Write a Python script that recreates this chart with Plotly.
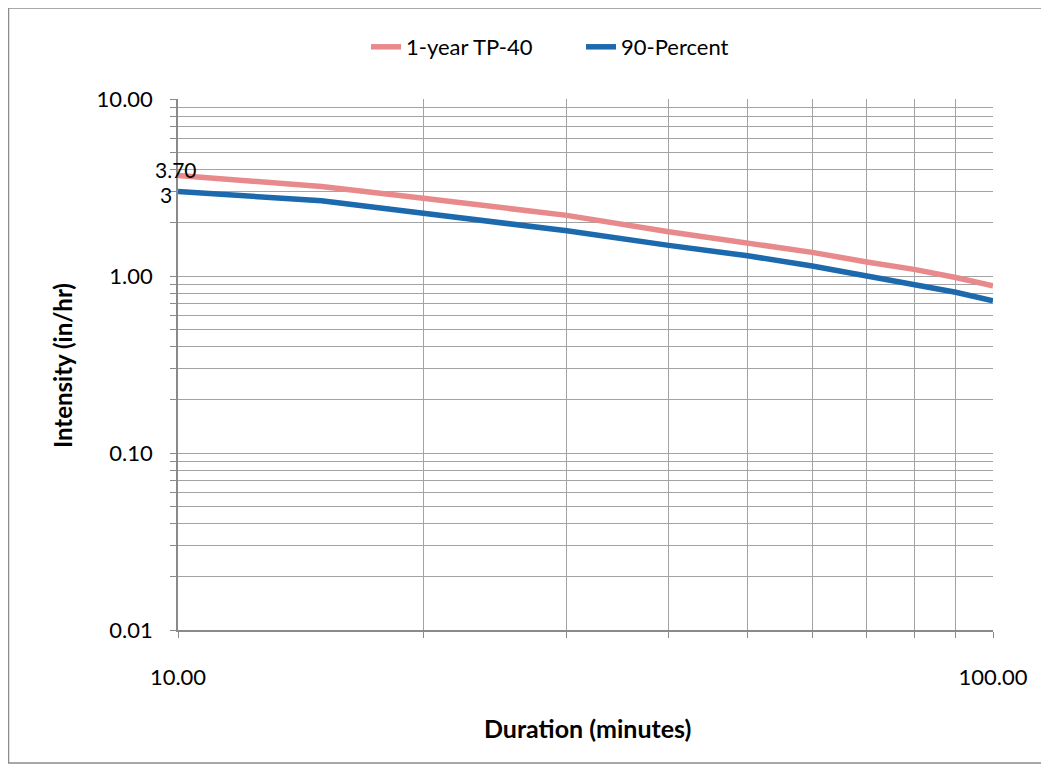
import math
import plotly.graph_objects as go

# ---- data ----
durations = [10, 15, 20, 30, 40, 50, 60, 70, 80, 90, 100]
tp40_1yr = [3.70, 3.20, 2.75, 2.20, 1.78, 1.55, 1.36, 1.20, 1.09, 0.98, 0.88]
pct90 = [3.00, 2.66, 2.26, 1.80, 1.49, 1.30, 1.14, 1.00, 0.89, 0.81, 0.725]

series_names = ["1-year TP-40", "90-Percent"]

x_tickvals = [10, 20, 30, 40, 50, 60, 70, 80, 90, 100]
x_ticktext = ["10.00", "", "", "", "", "", "", "", "", "100.00"]

y_tickvals = [m * d for d in (0.01, 0.1, 1) for m in range(1, 10)] + [10]
y_major_labels = {0.01: "0.01", 0.1: "0.10", 1: "1.00", 10: "10.00"}
y_ticktext = []
for v in y_tickvals:
    lab = ""
    for k, t in y_major_labels.items():
        if abs(v - k) < 1e-9:
            lab = t
    y_ticktext.append(lab)

PINK = "#E8898B"
BLUE = "#1C6AAD"
FONT = "Lato"
GRID = "#a3a3a3"
AXIS = "#8a8a8a"

# figure geometry (page has an 8px body margin)
W, H = 1041, 762
ML, MR, MT, MB = 170, 56, 91, 140
PW, PH = W - ML - MR, H - MT - MB


def px(xp):  # page x -> paper fraction
    return (xp - 8 - ML) / PW


def py(yp):  # page y -> paper fraction
    return (H - MB - (yp - 8)) / PH


fig = go.Figure()
fig.add_trace(go.Scatter(x=durations, y=tp40_1yr, mode="lines", name=series_names[0],
                         line=dict(color=PINK, width=5.5)))
fig.add_trace(go.Scatter(x=durations, y=pct90, mode="lines", name=series_names[1],
                         line=dict(color=BLUE, width=5.5)))

# data labels on the first points
fig.add_annotation(x=math.log10(durations[0]), y=math.log10(tp40_1yr[0]), xref="x", yref="y",
                   text=f"{tp40_1yr[0]:.2f}", showarrow=False, xanchor="center",
                   yanchor="middle", xshift=-2, yshift=6,
                   font=dict(family=FONT, size=21, color="#000"))
fig.add_annotation(x=math.log10(durations[0]), y=math.log10(pct90[0]), xref="x", yref="y",
                   text=f"{pct90[0]:g}", showarrow=False, xanchor="right",
                   yanchor="middle", xshift=-4, yshift=-3,
                   font=dict(family=FONT, size=21, color="#000"))

# axis titles
fig.add_annotation(x=px(62), y=py(365), xref="paper", yref="paper",
                   text="<b>Intensity (in/hr)</b>", showarrow=False, textangle=-90,
                   xanchor="center", yanchor="middle",
                   font=dict(family=FONT, size=24, color="#000"))
fig.add_annotation(x=px(587), y=py(728), xref="paper", yref="paper",
                   text="<b>Duration (minutes)</b>", showarrow=False,
                   xanchor="center", yanchor="middle",
                   font=dict(family=FONT, size=25, color="#000"))

fig.update_layout(
    width=W, height=H,
    margin=dict(l=ML, r=MR, t=MT, b=MB, autoexpand=False),
    paper_bgcolor="white", plot_bgcolor="white",
    font=dict(family=FONT, size=22, color="#000"),
    showlegend=True,
    legend=dict(orientation="h", x=px(366), xanchor="left", y=py(47), yanchor="middle",
                entrywidth=170, entrywidthmode="pixels",
                font=dict(family=FONT, size=22, color="#000"), bgcolor="rgba(0,0,0,0)"),
    xaxis=dict(type="log", range=[1, 2], tickvals=x_tickvals, ticktext=x_ticktext,
               showgrid=True, gridcolor=GRID, gridwidth=1,
               showline=True, linecolor=AXIS, linewidth=1.5, mirror=False,
               ticks="outside", ticklen=6, tickcolor=AXIS, ticklabelstandoff=21,
               zeroline=False, tickfont=dict(family=FONT, size=22)),
    yaxis=dict(type="log", range=[-2, 1], tickvals=y_tickvals, ticktext=y_ticktext,
               showgrid=True, gridcolor=GRID, gridwidth=1,
               showline=True, linecolor=AXIS, linewidth=1.5,
               ticks="outside", ticklen=6, tickcolor=AXIS, ticklabelstandoff=13,
               zeroline=False, tickfont=dict(family=FONT, size=22)),
)

# chart-area border
fig.add_shape(type="rect", xref="paper", yref="paper",
              x0=px(8.5), x1=px(1046), y0=py(763), y1=py(8),
              line=dict(color="#8c8c8c", width=1.5), layer="below")

fig.write_html("out.html")
